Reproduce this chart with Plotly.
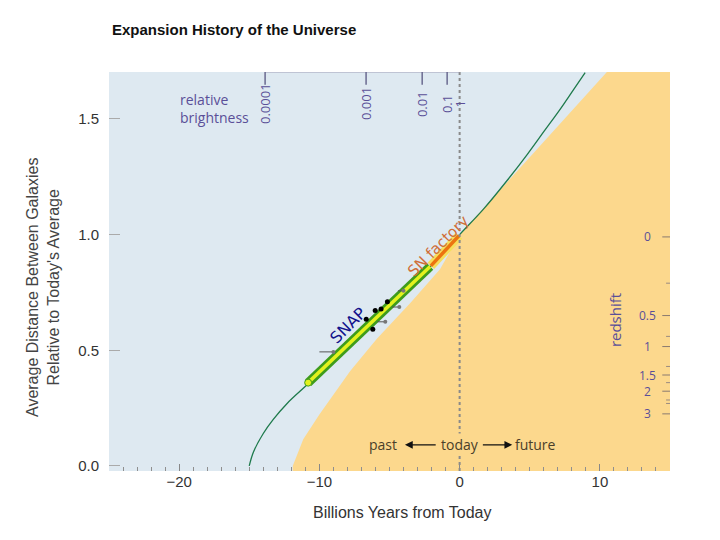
import plotly.graph_objects as go

# ---------------- data ----------------
# expansion history (scale factor vs. billions of years from today)
years = [-15.0, -14.7, -14.0, -13.3, -12.3, -10.8, -9.0, -7.0, -5.0, -3.0, -1.5, 0.0,
         1.7, 3.4, 4.8, 6.0, 7.2, 8.1, 8.95]
scale = [0.0, 0.06, 0.14, 0.20, 0.27, 0.355, 0.46, 0.575, 0.69, 0.805, 0.90, 1.0,
         1.11, 1.235, 1.345, 1.445, 1.545, 1.625, 1.70]

# edge of the orange region
edge_years = [-11.9, -11.15, -10.0, -8.9, -7.8, -5.9, -3.5, -1.4, 0.0, 10.5]
edge_scale = [0.0, 0.115, 0.222, 0.318, 0.41, 0.55, 0.705, 0.85, 1.0, 1.703]

# SNAP and SN factory coverage
snap_years = [-10.8, -2.1]
snap_scale = [0.36, 0.862]
snf_years = [-2.05, -0.05]
snf_scale = [0.865, 0.995]

# measured supernovae
sn_years = [-6.66, -6.19, -6.02, -5.6, -5.15]
sn_scale = [0.634, 0.591, 0.672, 0.678, 0.710]
arr_years = [-9.0, -5.3, -4.3, -4.0]
arr_scale = [0.493, 0.623, 0.687, 0.757]
arr_minus = [1.0, 0.55, 0.5, 0.4]

# relative brightness scale (top)
bright_labels = ["0.0001", "0.001", "0.01", "0.1", "1"]
bright_years = [-13.87, -6.67, -2.67, -0.89, 0.0]

# redshift scale (right)
z_labels = ["0", "0.5", "1", "1.5", "2", "3"]
z_scale = [0.99, 0.65, 0.516, 0.393, 0.323, 0.225]
z_minor = [0.79, 0.56, 0.43, 0.36, 0.285, 0.27]

XR = [-25, 15]
YR = [-0.022, 1.703]

BLUE_BG = "#dee9f1"
ORANGE = "#fcd88d"
PURPLE = "#5a4f98"

fig = go.Figure()

# orange region
fx = edge_years + [XR[1], XR[1], edge_years[0]]
fy = edge_scale + [YR[1], YR[0], YR[0]]
fig.add_trace(go.Scatter(x=fx, y=fy, fill="toself", fillcolor=ORANGE,
                         line=dict(width=0, color=ORANGE), mode="lines",
                         hoverinfo="skip", showlegend=False))

# expansion curve
fig.add_trace(go.Scatter(x=years, y=scale, mode="lines",
                         line=dict(color="#1e7a4c", width=1.3, shape="spline"),
                         showlegend=False))

# SNAP bar
fig.add_trace(go.Scatter(x=snap_years, y=snap_scale, mode="lines",
                         line=dict(color="#3e9c1c", width=9), showlegend=False))
fig.add_trace(go.Scatter(x=snap_years, y=snap_scale, mode="lines",
                         line=dict(color="#e3f21e", width=3.5), showlegend=False))
fig.add_trace(go.Scatter(x=snap_years[:1], y=snap_scale[:1], mode="markers",
                         marker=dict(color="#e3f21e", size=7, symbol="circle",
                                     line=dict(color="#3e9c1c", width=1)), showlegend=False))
# SN factory bar
fig.add_trace(go.Scatter(x=snf_years, y=snf_scale, mode="lines",
                         line=dict(color="#f6df5c", width=9), showlegend=False))
fig.add_trace(go.Scatter(x=snf_years, y=snf_scale, mode="lines",
                         line=dict(color="#ec7410", width=3.5), showlegend=False))

# supernova points
fig.add_trace(go.Scatter(x=arr_years, y=arr_scale, mode="markers",
                         marker=dict(color="#777777", size=4),
                         error_x=dict(type="data", symmetric=False, array=[0] * len(arr_minus),
                                      arrayminus=arr_minus, color="#555555", thickness=1, width=0),
                         showlegend=False))
fig.add_trace(go.Scatter(x=sn_years, y=sn_scale, mode="markers",
                         marker=dict(color="black", size=5), showlegend=False))

shapes = []
# today dotted line
shapes.append(dict(type="line", xref="x", yref="y", x0=0, x1=0, y0=YR[0], y1=YR[1],
                   line=dict(color="#8a8a8a", width=2, dash="dot")))
# brightness axis line + ticks
shapes.append(dict(type="line", xref="x", yref="y", x0=bright_years[0], x1=bright_years[-1],
                   y0=YR[1], y1=YR[1], line=dict(color="#a0a0b8", width=1)))
for bx in bright_years[:-1]:
    shapes.append(dict(type="line", xref="x", yref="y", x0=bx, x1=bx, y0=YR[1], y1=1.648,
                       line=dict(color="#6a6a90", width=1.5)))
# redshift ticks
for zy in z_scale:
    shapes.append(dict(type="line", xref="x", yref="y", x0=14.45, x1=15, y0=zy, y1=zy,
                       line=dict(color="#8a7a70", width=1)))
for zy in z_minor:
    shapes.append(dict(type="line", xref="x", yref="y", x0=14.72, x1=15, y0=zy, y1=zy,
                       line=dict(color="#9a8a80", width=1)))

ann = []
ann.append(dict(x=-20.1, y=1.545, xref="x", yref="y", text="relative<br>brightness",
                showarrow=False, xanchor="left", yanchor="middle", align="left",
                font=dict(family="Open Sans", size=14, color=PURPLE)))
for lab, bx in zip(bright_labels, bright_years):
    ann.append(dict(x=bx, y=1.565, xref="x", yref="y", text=lab, textangle=-90,
                    showarrow=False, xanchor="center", yanchor="middle",
                    font=dict(family="Open Sans", size=13, color=PURPLE)))
for lab, zy in zip(z_labels, z_scale):
    ann.append(dict(x=13.37, y=zy, xref="x", yref="y", text=lab, showarrow=False,
                    xanchor="center", yanchor="middle",
                    font=dict(family="Open Sans", size=12, color=PURPLE)))
ann.append(dict(x=11.09, y=0.631, xref="x", yref="y", text="redshift", textangle=-90,
                showarrow=False, xanchor="center", yanchor="middle",
                font=dict(family="Open Sans", size=15, color=PURPLE)))
ann.append(dict(x=-7.95, y=0.605, xref="x", yref="y", text="SNAP", textangle=-45,
                showarrow=False, xanchor="center", yanchor="middle",
                font=dict(family="DejaVu Sans", size=16, color="#12128c")))
ann.append(dict(x=-1.53, y=0.951, xref="x", yref="y", text="SN factory", textangle=-45,
                showarrow=False, xanchor="center", yanchor="middle",
                font=dict(family="DejaVu Sans", size=15, color="#d06e38")))
# past / today / future
for txt, tx in [("past", -5.46), ("today", 0.0), ("future", 5.38)]:
    ann.append(dict(x=tx, y=0.091, xref="x", yref="y", text=txt, showarrow=False,
                    xanchor="center", yanchor="middle",
                    bgcolor=ORANGE if txt == "today" else None,
                    font=dict(family="Open Sans", size=14, color="#4a3f2a")))
ann.append(dict(x=-3.9, y=0.091, ax=-1.6, ay=0.091, xref="x", yref="y", axref="x", ayref="y",
                text="", showarrow=True, arrowhead=2, arrowsize=1.2, arrowwidth=1.3,
                arrowcolor="#111111"))
ann.append(dict(x=3.75, y=0.091, ax=1.55, ay=0.091, xref="x", yref="y", axref="x", ayref="y",
                text="", showarrow=True, arrowhead=2, arrowsize=1.2, arrowwidth=1.3,
                arrowcolor="#111111"))
# axis titles (plot area: 561 x 399 px)
ann.append(dict(x=(43 - 109) / 561, y=(471 - 288) / 399, xref="paper", yref="paper",
                text="Average Distance Between Galaxies<br>Relative to Today's Average",
                textangle=-90, showarrow=False, align="center",
                xanchor="center", yanchor="middle",
                font=dict(family="Liberation Sans", size=16, color="#444444")))
ann.append(dict(x=(402 - 109) / 561, y=(471 - 513) / 399, xref="paper", yref="paper",
                text="Billions Years from Today", showarrow=False,
                xanchor="center", yanchor="middle",
                font=dict(family="Liberation Sans", size=16, color="#333333")))

# the page body adds an 8 px offset, so the layout is shifted by -8 px
fig.update_layout(
    width=720, height=540,
    margin=dict(l=101, r=58, t=64, b=77),
    paper_bgcolor="white", plot_bgcolor=BLUE_BG,
    title=dict(text="<b>Expansion History of the Universe</b>", xref="container", yref="container",
               x=104 / 720, y=1 - 22 / 540, xanchor="left", yanchor="middle",
               font=dict(family="Liberation Sans", size=15, color="#111111")),
    shapes=shapes, annotations=ann, showlegend=False,
)
fig.update_xaxes(range=XR, showgrid=False, zeroline=False, tickvals=[-20, -10, 0, 10],
                 ticktext=["\u221220", "\u221210", "0", "10"],
                 ticks="inside", ticklen=7, tickcolor="#888888",
                 minor=dict(dtick=1, ticks="inside", ticklen=4, tickcolor="#8f8f8f"),
                 tickfont=dict(family="Liberation Sans", size=15, color="#333333"),
                 showline=False)
fig.update_yaxes(range=YR, showgrid=False, zeroline=False, tickvals=[0, 0.5, 1.0, 1.5],
                 ticktext=["0.0", "0.5", "1.0", "1.5"],
                 ticks="inside", ticklen=11, tickcolor="#aaaaaa", ticklabelstandoff=9,
                 tickfont=dict(family="Liberation Sans", size=15, color="#333333"),
                 showline=False)

fig.write_html("out.html")
